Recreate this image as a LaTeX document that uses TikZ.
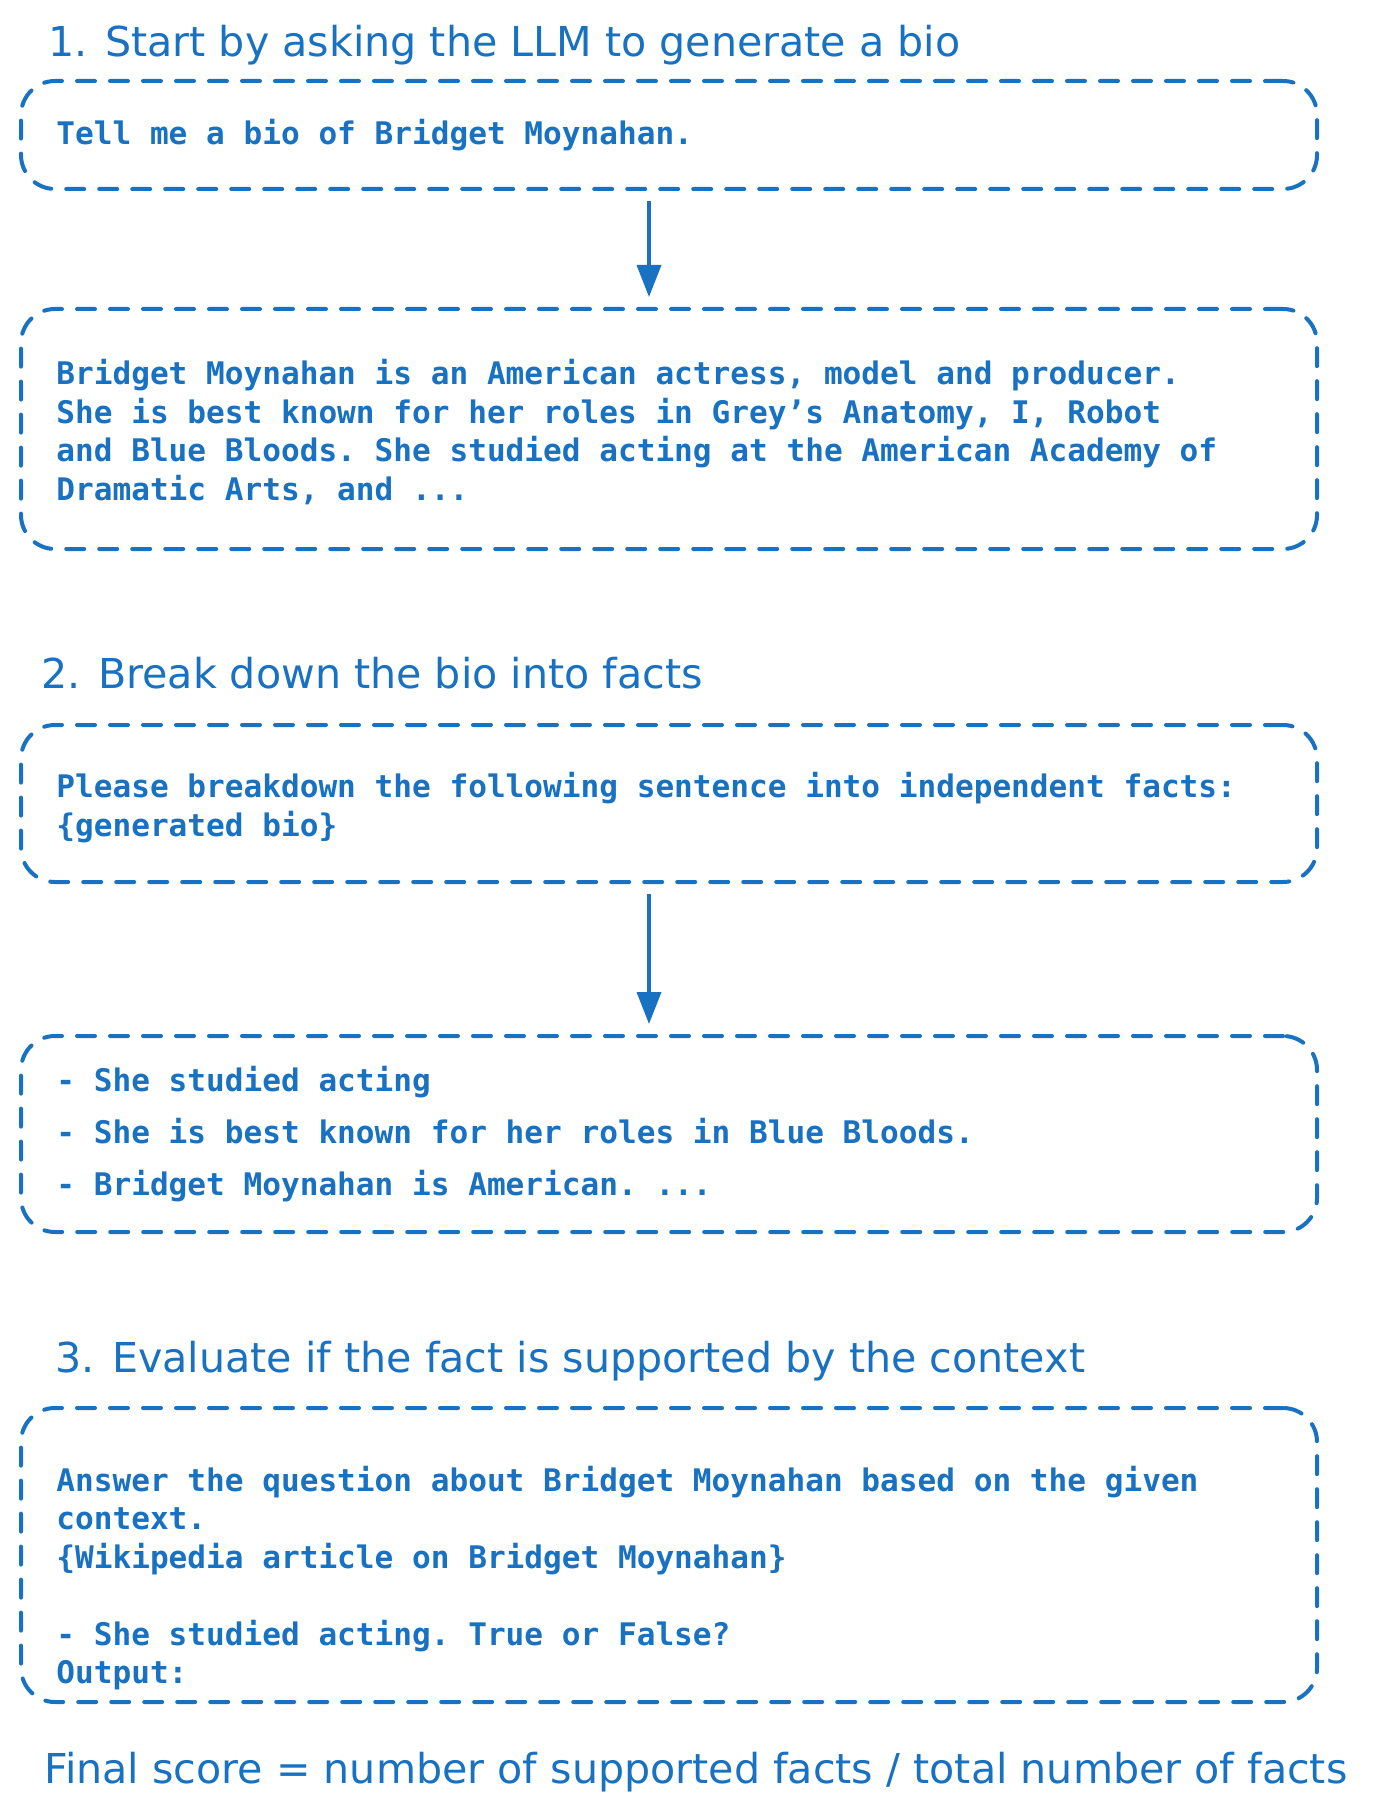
\documentclass[tikz,border=0pt]{standalone}
\usepackage{fontspec}
\setmonofont{DejaVu Sans Mono}
\newfontfamily\handfont{DejaVu Sans}
\usetikzlibrary{arrows.meta}

\definecolor{inkblue}{HTML}{1971C2}

\tikzstyle{card} = [draw=inkblue, line width=2pt, dash pattern=on 9pt off 7.5pt, line cap=round, rounded corners=17pt, minimum width=648pt, inner sep=0pt]
\tikzstyle{say} = [inkblue, anchor=west, align=left, inner sep=0pt, font=\ttfamily\bfseries\fontsize{15.55}{19.25}\selectfont]
\tikzstyle{facts} = [say, font=\ttfamily\bfseries\fontsize{15.55}{26}\selectfont]
\tikzstyle{head} = [inkblue, anchor=base west, inner sep=0pt, font=\handfont\fontsize{20.6}{24}\selectfont]
\tikzstyle{flow} = [draw=inkblue, line width=1.8pt, -{Triangle[length=16pt,width=12pt]}, shorten <=5pt, shorten >=5pt]

\begin{document}
\begin{tikzpicture}[x=0.5pt, y=-0.5pt]
\useasboundingbox (0,0) rectangle (1372,1818);

% step 1
\node[head] (title1) at (48,57) {1. Start by asking the LLM to generate a bio};
\node[card, minimum height=54pt] (ask) at (669,135) {};
\node[say] (asktxt) at ([xshift=18.5pt]ask.west) {Tell me a bio of Bridget Moynahan.};
\node[card, minimum height=120pt] (bio) at (669,429) {};
\node[say] (biotxt) at ([xshift=18.5pt,yshift=-1.5pt]bio.west)
    {Bridget Moynahan is an American actress, model and producer.\\
     She is best known for her roles in Grey’s Anatomy, I, Robot\\
     and Blue Bloods. She studied acting at the American Academy of\\
     Dramatic Arts, and ...};
\draw[flow] ([xshift=-10pt]ask.south) -- ([xshift=-10pt]bio.north);

% step 2
\node[head] (title2) at (41,688) {2. Break down the bio into facts};
\node[card, minimum height=78.5pt] (split) at (669,803.5) {};
\node[say] (splittxt) at ([xshift=18.5pt,yshift=-2pt]split.west)
    {Please breakdown the following sentence into independent facts:\\
     \{generated bio\}};
\node[card, minimum height=98pt] (list) at (669,1134) {};
\node[facts] (listtxt) at ([xshift=18.5pt]list.west)
    {- She studied acting\\
     - She is best known for her roles in Blue Bloods.\\
     - Bridget Moynahan is American. ...};
\draw[flow] ([xshift=-10pt]split.south) -- ([xshift=-10pt]list.north);

% step 3
\node[head] (title3) at (55,1372) {3. Evaluate if the fact is supported by the context};
\node[card, minimum height=147pt] (check) at (669,1555) {};
\node[say] (checktxt) at ([xshift=18.5pt,yshift=-11.5pt]check.west)
    {Answer the question about Bridget Moynahan based on the given\\
     context.\\
     \{Wikipedia article on Bridget Moynahan\}\\
     \mbox{}\\
     - She studied acting. True or False?\\
     Output:};

\node[head] (score) at (44,1783) {Final score = number of supported facts / total number of facts};
\end{tikzpicture}
\end{document}
